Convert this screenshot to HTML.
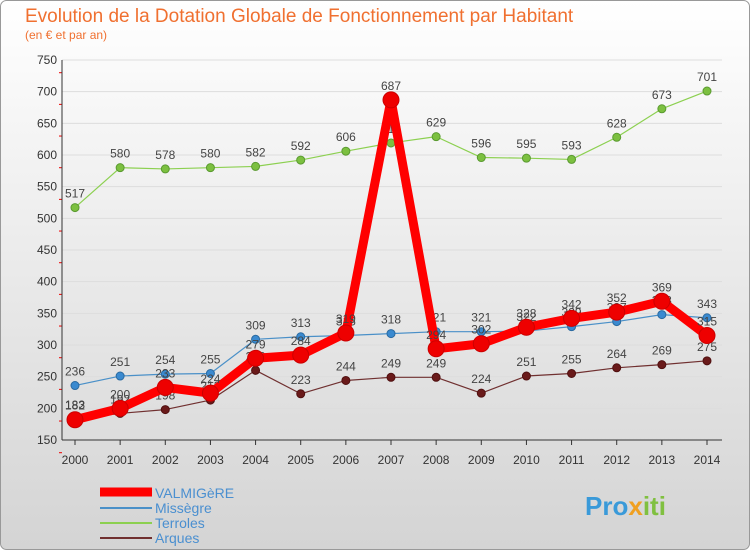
<!DOCTYPE html>
<html><head><meta charset="utf-8"><style>
body{margin:0;width:750px;height:550px;overflow:hidden;font-family:"Liberation Sans",sans-serif}
</style></head><body>
<svg width="750" height="550" xmlns="http://www.w3.org/2000/svg">
<defs><linearGradient id="bg" x1="0" y1="0" x2="0" y2="1"><stop offset="0" stop-color="#ffffff"/><stop offset="1" stop-color="#d4d4d4"/></linearGradient></defs>
<rect x="0.5" y="0.5" width="749" height="549" rx="6" fill="url(#bg)" stroke="#999"/>
<text x="25" y="22" font-size="19" fill="#f07030">Evolution de la Dotation Globale de Fonctionnement par Habitant</text>
<text x="25" y="39" font-size="12" fill="#f07030">(en € et par an)</text>
<g id="axes"></g><g id="series"></g>
<g>
<line x1="100" y1="492" x2="152" y2="492" stroke="#ff0000" stroke-width="9"/>
<text x="155" y="498" font-size="14" fill="#4a8fd0">VALMIGèRE</text>
<line x1="100" y1="508" x2="152" y2="508" stroke="#4a90c8" stroke-width="2"/>
<text x="155" y="513" font-size="14" fill="#4a8fd0">Missègre</text>
<line x1="100" y1="523" x2="152" y2="523" stroke="#8cd050" stroke-width="2"/>
<text x="155" y="528" font-size="14" fill="#4a8fd0">Terroles</text>
<line x1="100" y1="538" x2="152" y2="538" stroke="#703030" stroke-width="2"/>
<text x="155" y="543" font-size="14" fill="#4a8fd0">Arques</text>
</g>
<text x="585" y="515" font-size="26" font-weight="bold" fill="#3a9ad9">Pro<tspan fill="#f0a020">x</tspan><tspan fill="#80c040">iti</tspan></text>
</svg>
<script>
const years=[2000,2001,2002,2003,2004,2005,2006,2007,2008,2009,2010,2011,2012,2013,2014];
const yTicks=[150,200,250,300,350,400,450,500,550,600,650,700,750];
const valmigere=[182,200,233,224,279,284,319,687,294,302,328,342,352,369,315];
const missegre=[236,251,254,255,309,313,315,318,321,321,322,329,337,348,343];
const terroles=[517,580,578,580,582,592,606,619,629,596,595,593,628,673,701];
const arques=[183,192,198,213,260,223,244,249,249,224,251,255,264,269,275];
const NS="http://www.w3.org/2000/svg";
const x=i=>75+i*(707-75)/14;
const y=v=>440-(v-150)*380/600;
function mk(tag,attrs,parent){const e=document.createElementNS(NS,tag);for(const k in attrs)e.setAttribute(k,attrs[k]);parent.appendChild(e);return e;}
const ax=document.getElementById('axes');
yTicks.forEach(t=>{
 const g=mk('line',{x1:62,x2:722,y1:y(t),y2:y(t),stroke:'#ddd','stroke-width':1},ax);
 
 
 const tx=mk('text',{x:57,y:y(t)+4,'font-size':12,'text-anchor':'end',fill:'#333'},ax);tx.textContent=t;
 
 
 mk('line',{x1:59,x2:62,y1:y(t)+12.7,y2:y(t)+12.7,stroke:'#e00','stroke-width':1},ax);
});
const ya=mk('line',{x1:62,x2:62,y1:60,y2:440,stroke:'#333'},ax);


const xa=mk('line',{x1:62,x2:722,y1:440,y2:440,stroke:'#333'},ax);


years.forEach((yr,i)=>{
 mk('line',{x1:x(i),x2:x(i),y1:440,y2:445,stroke:'#333'},ax);
 const t=mk('text',{x:x(i),y:464,'font-size':12,'text-anchor':'middle',fill:'#333'},ax);t.textContent=yr;
 
 
});
const sg=document.getElementById('series');
function series(vals,name,color,w,r,dot,stroke){
 const g=mk('g',{},sg);
 
 
 const p=mk('polyline',{points:vals.map((v,i)=>x(i)+','+y(v)).join(' '),fill:'none',stroke:color,'stroke-width':w,'stroke-linejoin':'round'},g);
 
 
 vals.forEach((v,i)=>{
  const c=mk('circle',{cx:x(i),cy:y(v),r:r,fill:dot,stroke:stroke,'stroke-width':1},g);
  
  
  const t=mk('text',{x:x(i),y:y(v)-10,'font-size':12,'text-anchor':'middle',fill:'#444'},g);t.textContent=v;
  
  
 });
}
series(terroles,'terroles','#8cd050',1.2,4,'#7cc040','#5a9a30');
series(arques,'arques','#703030',1.2,4,'#6a1a1a','#501010');
series(missegre,'missegre','#4a90c8',1.2,4,'#3a8ad0','#2a6aa0');
series(valmigere,'valmigere','#ff0000',9,8,'#ee0000','#cc0000');
</script>
</body></html>
